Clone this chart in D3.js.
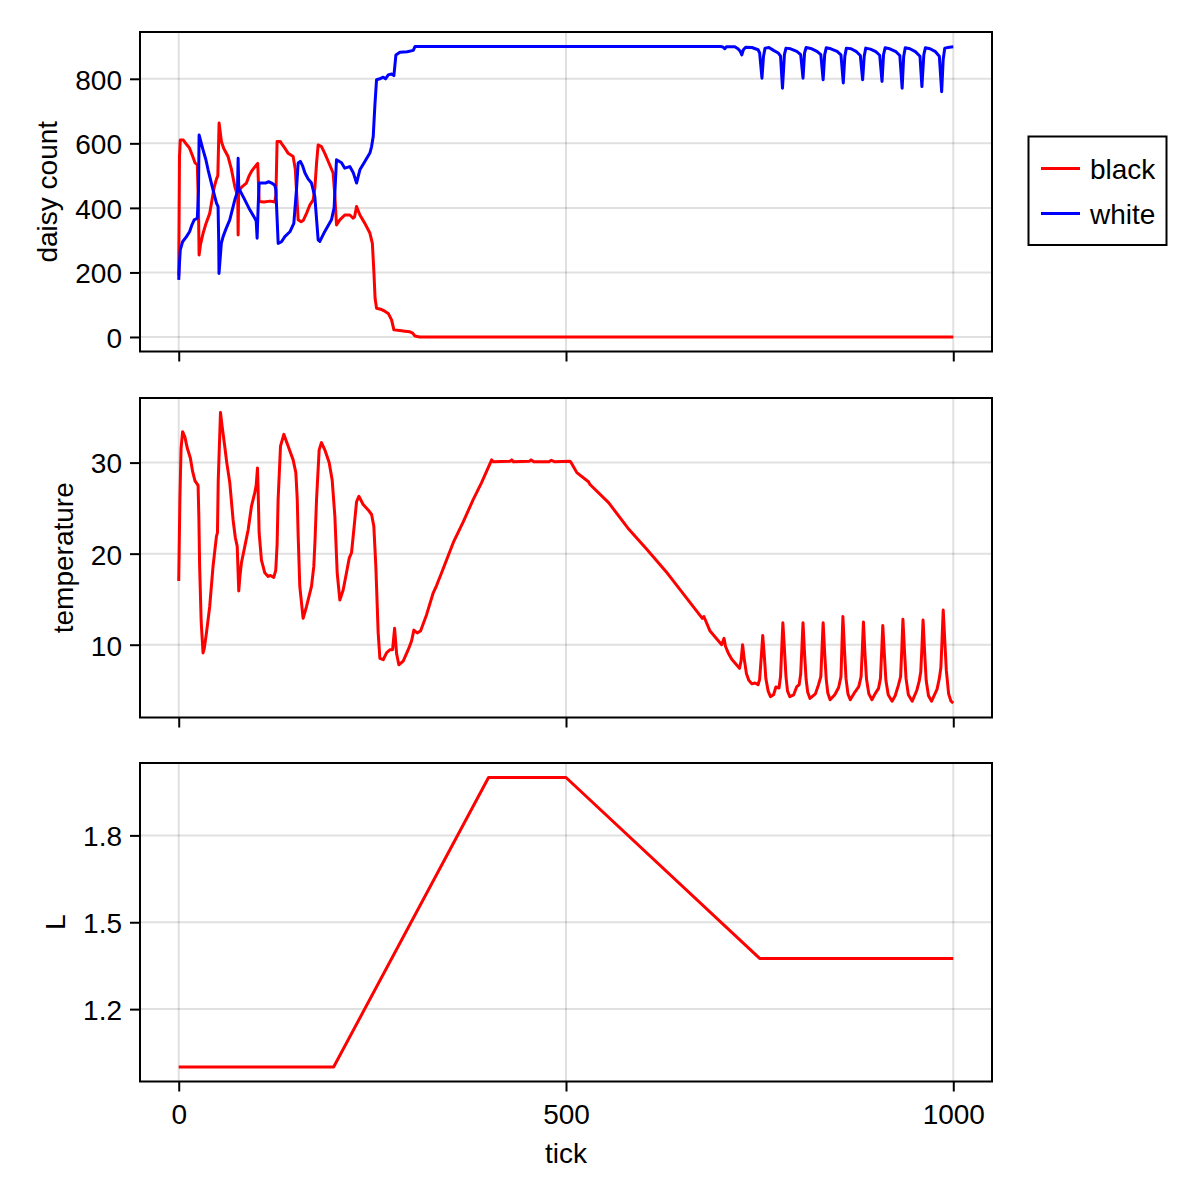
<!DOCTYPE html>
<html><head><meta charset="utf-8">
<script src="https://cdn.jsdelivr.net/npm/d3@7"></script>
<style>
html,body{margin:0;padding:0;background:#fff;}
svg{display:block;}
</style></head><body>
<svg id="chart" width="1200" height="1200"></svg>
<script>
// ---------------- DATA ----------------
const xTicks = [0, 500, 1000];
const countTicks = [0, 200, 400, 600, 800];
const tempTicks = [10, 20, 30];
const lumTicks = [1.2, 1.5, 1.8];
const seriesNames = ["black", "white"];

const blackDaisies = [[0,190],[1,560],[2,610],[6,610],[10,597],[14,585],[18,560],[21,540],[24,533],[25.5,400],[26.3,254],[28,285],[31.4,321],[35,350],[40,383],[43,425],[46,466],[48.7,489],[50.5,500],[52.1,663],[55.1,606],[58,585],[63.7,559],[68,520],[72.4,466],[75,445],[76.2,435],[76.7,316],[77.3,445],[78.5,456],[82,466],[87.4,477],[91,500],[93.9,513],[97,523],[100.3,533],[102,538],[103.8,420],[110,418],[118,421],[124,418],[125.5,440],[127,606],[131,606],[134,595],[137,585],[141.3,569],[147.7,559],[150.5,520],[152,456],[154.2,363],[158,357],[161,362],[165,383],[169.3,409],[173.6,425],[175.7,460],[178,540],[180,595],[184.3,590],[188.6,569],[195,533],[199.3,508],[201.5,440],[203.7,347],[208,363],[214.4,378],[220.9,378],[225.2,368],[227,372],[229.6,404],[233.9,378],[240.3,352],[246.8,322],[250,290],[252,200],[253.5,120],[255.4,89],[261.9,85],[266,80],[270.5,73],[274.8,53],[277.8,22],[285.5,20],[292,18],[298.4,16],[302,12],[305,3],[311,0],[1000,0]];

const whiteDaisies = [[0,177],[1,230],[2,270],[5,295],[10,311],[14,326],[17,347],[20,363],[24,368],[25.5,450],[26.3,626],[31.4,580],[35,550],[37.9,518],[44.3,456],[48.7,415],[50.8,404],[51.6,300],[52,197],[55,290],[57.3,311],[61,335],[65.9,363],[72.4,425],[75.8,450],[76.7,554],[77.5,460],[78.5,456],[83.2,435],[91.8,394],[98.2,368],[100,360],[101.2,306],[102.5,400],[103.8,477],[112,477],[116,481],[120,477],[124,470],[125.4,456],[128.4,290],[132.7,295],[137,311],[143.5,326],[148.6,352],[152,456],[154.2,539],[157,544],[160,530],[163,508],[167,490],[171.4,477],[175.7,435],[177.8,370],[180,301],[182.2,296],[188.6,327],[197.2,363],[200.6,400],[203.7,549],[210.2,540],[214.4,523],[220.9,528],[225.2,510],[229.6,477],[233.9,518],[240.3,544],[246.8,570],[249,590],[251.1,621],[253.3,720],[255.4,797],[259.7,800],[264,805],[267,800],[270.5,812],[274.8,815],[277.8,810],[280.4,874],[285.5,882],[295,884],[302.8,888],[305,900],[700,900],[703,898],[705,893],[707,899],[718,899],[722,893],[725,885],[727,874],[729,890],[732,898],[740,897],[748,890],[750,880],[753,802],[755,870],[757,895],[762,897],[768,888],[774,880],[777,870],[779.5,771],[782,875],[784,895],[790,893],[798,885],[803,875],[806,802],[808,880],[810,897],[816,894],[824,885],[829,875],[832,797],[834,875],[836,896],[842,893],[850,885],[855,874],[858,787],[860,870],[862,895],[868,893],[875,884],[880,872],[883,797],[885,870],[887,895],[893,892],[900,884],[905,873],[908,792],[910,875],[912,896],[918,893],[926,884],[931,872],[934,771],[936,870],[938,896],[944,893],[951,884],[957,870],[959.5,776],[962,875],[964,896],[970,893],[977,884],[982,870],[985,760],[987,860],[989,895],[995,898],[1000,899]];

const temperature = [[0,17],[1.5,26],[3,31.5],[5,33.4],[8,32.8],[11,31.6],[15,30.5],[18,29],[21,28],[25,27.5],[26,24],[27,18.6],[29,12.5],[31.4,9.1],[33,9.6],[35.8,11.3],[40,14.2],[44.3,18.6],[48.7,21.9],[50,22.3],[51,28],[53.9,35.5],[56,34],[59.4,31.8],[62,30],[65.9,27.8],[70.2,23.7],[73,21.8],[75.5,20.8],[77.5,15.9],[79,17.5],[81,19.0],[85.3,20.8],[89.6,22.6],[93.9,25.2],[98.2,26.7],[100,27.5],[101.7,29.4],[102.5,27],[103.8,22.3],[106.8,19.3],[111.1,17.9],[115.4,17.5],[118.4,17.6],[122.7,17.4],[125.3,18.2],[127,21],[128.3,25.9],[131.4,31.8],[135.7,33.1],[141.3,31.8],[147.7,30.3],[151.2,28.9],[153,26],[154.2,22],[156.3,16.4],[160.6,12.9],[165,14.2],[171.4,16.4],[174.4,18.6],[176,21.5],[177.9,25.9],[181.3,31.4],[184.3,32.2],[188.6,31.4],[194.2,30.0],[198.1,28.1],[201.6,24.1],[204.6,17.9],[208,14.9],[212.3,16.0],[216.6,17.9],[220.1,19.5],[223.1,20.1],[226.5,23.0],[229.6,25.7],[232.6,26.3],[238.1,25.4],[244.6,24.8],[249,24.3],[251.9,23.0],[254.5,18.6],[257.5,11.3],[259.7,8.5],[264,8.35],[268.3,9.1],[272.6,9.45],[276.1,9.45],[278.7,11.8],[281.3,9.0],[284.2,7.8],[289.8,8.2],[296.3,9.45],[300.6,10.4],[303.6,11.6],[307.9,11.3],[312.2,11.5],[320,13.3],[328.6,15.7],[332.9,16.5],[339.4,17.9],[354.4,21.2],[367.3,23.5],[380,25.9],[391,27.8],[404,30.3],[406,30.1],[428,30.15],[430,30.3],[432,30.1],[453,30.15],[455,30.3],[458,30.1],[478,30.1],[481,30.25],[485,30.1],[505,30.15],[506,30.1],[514,28.9],[529,27.9],[531,27.6],[555,25.6],[580,22.8],[604,20.5],[629,18.05],[654,15.3],[676,12.9],[678,13.1],[686,11.5],[701,10.0],[704,10.7],[706,9.8],[710,9.0],[714,8.4],[719,7.9],[724,7.4],[726,8.2],[728,10.0],[730,8.5],[733,6.8],[736,6.1],[740,5.7],[744,5.8],[748,5.6],[750,6.2],[752,8.5],[754,11.0],[756,8.8],[758,6.3],[761,4.9],[764,4.3],[768,4.5],[771,5.35],[775,5.25],[777,6.5],[778.5,9.5],[780,12.4],[782,9.5],[784,6.5],[786,4.9],[789,4.3],[794,4.5],[798,5.4],[801,5.6],[803,6.8],[804.5,9.5],[806,12.4],[808,9],[810,6.2],[812,4.8],[815,4.1],[822,4.6],[826,5.6],[829,6.5],[830.5,9.5],[832,12.4],[834,9],[836,6.2],[838,4.7],[841,3.95],[847,4.5],[852,5.3],[855,6.5],[856.3,10],[857.5,13.1],[859.5,9.5],[861.5,6.3],[864,4.6],[867,3.95],[873,4.8],[878,5.4],[881,6.5],[882.6,9.5],[884,12.5],[886,9],[888,6.2],[891,4.6],[895,3.95],[899,4.6],[903.5,5.2],[906,6.3],[907.6,9.3],[909,12.1],[911,9],[913,6.1],[916,4.5],[921,3.8],[925,4.4],[929,5.5],[932,6.5],[933.6,9.6],[935,12.8],[937,9.3],[939,6.3],[942,4.5],[947,3.8],[953,5.0],[956,6],[958,7],[959.6,9.8],[961,12.7],[963,9.2],[965,6.1],[968,4.4],[972,3.8],[979,5.1],[982,6.3],[984,7.5],[985.5,10.5],[987,13.8],[989,10.5],[991,7.2],[994,4.6],[997,3.8],[1000,3.6]];

const luminosity = [[0,1.0],[200,1.0],[400,2.0],[500,2.0],[750,1.375],[1000,1.375]];

// ---------------- LAYOUT / STYLE ----------------
const FONT = "'Liberation Sans', Arial, Helvetica, sans-serif";
const FS = 28;
const LEFT = 140, RIGHT = 992;
const RED = "#ff0000", BLUE = "#0000ff";

const svg = d3.select("#chart").attr("font-family", FONT);

function padded(lo, hi) { const r = hi - lo; return [lo - 0.05 * r, hi + 0.05 * r]; }

const xDom = padded(d3.min(xTicks), d3.max(xTicks));
const x = d3.scaleLinear().domain(xDom).range([LEFT, RIGHT]);

const panels = [
  { top: 32, bottom: 351.5, series: [{data: blackDaisies, color: RED}, {data: whiteDaisies, color: BLUE}],
    yTicks: countTicks, fmt: d3.format("d"), label: "daisy count", xLabels: false },
  { top: 398, bottom: 717.5, series: [{data: temperature, color: RED}],
    yTicks: tempTicks, fmt: d3.format("d"), label: "temperature", xLabels: false },
  { top: 763, bottom: 1081.5, series: [{data: luminosity, color: RED}],
    yTicks: lumTicks, fmt: d3.format(".1f"), label: "L", xLabels: true }
];

panels.forEach(p => {
  const all = p.series.flatMap(s => s.data.map(d => d[1]));
  const y = d3.scaleLinear().domain(padded(d3.min(all), d3.max(all))).range([p.bottom, p.top]);
  const g = svg.append("g");

  // grid
  g.append("g").selectAll("line").data(xTicks).join("line")
    .attr("x1", d => x(d)).attr("x2", d => x(d)).attr("y1", p.top).attr("y2", p.bottom)
    .attr("stroke", "#000").attr("stroke-opacity", 0.12).attr("stroke-width", 2);
  g.append("g").selectAll("line").data(p.yTicks).join("line")
    .attr("x1", LEFT).attr("x2", RIGHT).attr("y1", d => y(d)).attr("y2", d => y(d))
    .attr("stroke", "#000").attr("stroke-opacity", 0.12).attr("stroke-width", 2);

  // lines
  const line = d3.line().x(d => x(d[0])).y(d => y(d[1]));
  p.series.forEach(s => {
    g.append("path").attr("d", line(s.data)).attr("fill", "none")
      .attr("stroke", s.color).attr("stroke-width", 3)
      .attr("stroke-linejoin", "round").attr("stroke-linecap", "butt");
  });

  // spines
  g.append("rect").attr("x", LEFT).attr("y", p.top).attr("width", RIGHT - LEFT).attr("height", p.bottom - p.top)
    .attr("fill", "none").attr("stroke", "#000").attr("stroke-width", 2);

  // y axis
  const ya = g.append("g").attr("transform", `translate(${LEFT},0)`)
    .call(d3.axisLeft(y).tickValues(p.yTicks).tickFormat(p.fmt).tickSize(10).tickPadding(8).tickSizeOuter(0));
  ya.select(".domain").remove();
  ya.attr("font-size", FS).attr("font-family", FONT);
  ya.selectAll("line").attr("stroke", "#000").attr("stroke-width", 2);
  ya.selectAll("text").attr("fill", "#000").attr("dy", "0.37em");

  // x axis
  const xa = g.append("g").attr("transform", `translate(0,${p.bottom})`)
    .call(d3.axisBottom(x).tickValues(xTicks).tickFormat(p.xLabels ? d3.format("d") : () => "")
      .tickSize(10).tickPadding(12.5).tickSizeOuter(0));
  xa.select(".domain").remove();
  xa.attr("font-size", FS).attr("font-family", FONT);
  xa.selectAll("line").attr("stroke", "#000").attr("stroke-width", 2);
  xa.selectAll("text").attr("fill", "#000");

  // y label
  let minX = Infinity;
  ya.selectAll("text").each(function () { const b = this.getBBox(); minX = Math.min(minX, LEFT + b.x); });
  const bx = minX - 18;
  g.append("text").attr("transform", `translate(${bx},${(p.top + p.bottom) / 2}) rotate(-90)`)
    .attr("text-anchor", "middle").attr("font-size", FS).attr("fill", "#000").text(p.label);
});

// x label
svg.append("text").attr("x", (LEFT + RIGHT) / 2).attr("y", 1163).attr("text-anchor", "middle")
  .attr("font-size", FS).attr("fill", "#000").text("tick");

// legend
const lg = svg.append("g");
lg.append("rect").attr("x", 1028.5).attr("y", 136.5).attr("width", 138).attr("height", 108.5)
  .attr("fill", "#fff").attr("stroke", "#000").attr("stroke-width", 2);
const legendColors = [RED, BLUE];
seriesNames.forEach((name, i) => {
  const cy = 168.5 + i * 45;
  lg.append("line").attr("x1", 1041).attr("x2", 1080).attr("y1", cy).attr("y2", cy)
    .attr("stroke", legendColors[i]).attr("stroke-width", 3);
  lg.append("text").attr("x", 1090).attr("y", cy + 10).attr("font-size", FS).attr("fill", "#000").text(name);
});
</script>
</body></html>
